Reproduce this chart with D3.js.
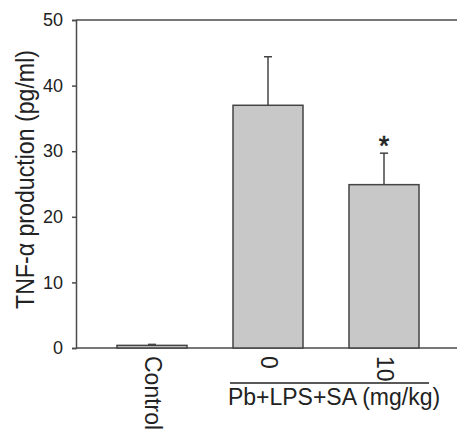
<!DOCTYPE html>
<html><head><meta charset="utf-8">
<script src="https://cdn.jsdelivr.net/npm/d3@7"></script>
<style>body{margin:0;background:#fff}svg{display:block}text{font-family:"Liberation Sans",Arial,sans-serif;fill:#222}</style>
</head><body>
<svg id="c" width="457" height="429"></svg>
<script>
const categories = ["Control", "0", "10"];
const means = [0.4, 37.0, 24.9];
const errors = [0.15, 7.4, 4.8];
const significance = ["", "", "*"];
const yTicks = [0, 10, 20, 30, 40, 50];
const yLabel = "TNF-α production (pg/ml)";
const groupLabel = "Pb+LPS+SA (mg/kg)";

const svg = d3.select("#c");
const y = d3.scaleLinear().domain([0, 50]).range([348, 20]);
const x = d3.scaleBand().domain(categories).range([94, 442])
  .paddingInner(46/116).paddingOuter(23/116);
const axisColor = "#4a4a4a";

svg.append("line").attr("x1", 76).attr("x2", 457).attr("y1", y(50)).attr("y2", y(50))
  .attr("stroke", axisColor).attr("stroke-width", 1.5);
svg.append("line").attr("x1", 76).attr("x2", 457).attr("y1", y(0)).attr("y2", y(0))
  .attr("stroke", axisColor).attr("stroke-width", 1.5);

const ya = svg.append("g").attr("transform", "translate(76,0)")
  .call(d3.axisLeft(y).tickValues(yTicks).tickSize(4).tickPadding(9));
ya.select(".domain").attr("stroke", axisColor).attr("stroke-width", 1.5);
ya.selectAll(".tick line").attr("stroke", axisColor).attr("stroke-width", 1.5);
ya.selectAll(".tick text").attr("font-size", 18).attr("fill", "#222")
  .attr("font-family", "'Liberation Sans', Arial, sans-serif");

svg.selectAll("rect.bar").data(categories).enter().append("rect")
  .attr("class", "bar")
  .attr("x", d => x(d)).attr("width", x.bandwidth())
  .attr("y", (d, i) => y(means[i])).attr("height", (d, i) => y(0) - y(means[i]))
  .attr("fill", "#c8c8c8").attr("stroke", "#444").attr("stroke-width", 1.5);

categories.forEach((c, i) => {
  const cx = x(c) + x.bandwidth() / 2;
  const top = y(means[i] + errors[i]);
  svg.append("line").attr("x1", cx).attr("x2", cx)
    .attr("y1", y(means[i])).attr("y2", top)
    .attr("stroke", "#444").attr("stroke-width", 1.5);
  svg.append("line").attr("x1", cx - 4).attr("x2", cx + 4)
    .attr("y1", top).attr("y2", top)
    .attr("stroke", "#444").attr("stroke-width", 1.5);
  if (significance[i]) {
    svg.append("text").attr("x", cx).attr("y", top + 2)
      .attr("text-anchor", "middle").attr("font-size", 27)
      .attr("stroke", "#222").attr("stroke-width", 0.6).text(significance[i]);
  }
});

categories.forEach((c, i) => {
  const cx = x(c) + x.bandwidth() / 2 + 1;
  svg.append("text")
    .attr("transform", `translate(${cx},356) rotate(90)`)
    .attr("dominant-baseline", "central")
    .attr("font-size", 23).text(c);
});

svg.append("line").attr("x1", 230).attr("x2", 429).attr("y1", 383).attr("y2", 383)
  .attr("stroke", "#222").attr("stroke-width", 1.3);
svg.append("text").attr("x", 334).attr("y", 405).attr("text-anchor", "middle")
  .attr("font-size", 23).text(groupLabel);

svg.append("text")
  .attr("transform", `translate(34,${(50 + 309) / 2}) rotate(-90) scale(0.89,1)`)
  .attr("text-anchor", "middle").attr("font-size", 26).text(yLabel);
</script>
</body></html>
